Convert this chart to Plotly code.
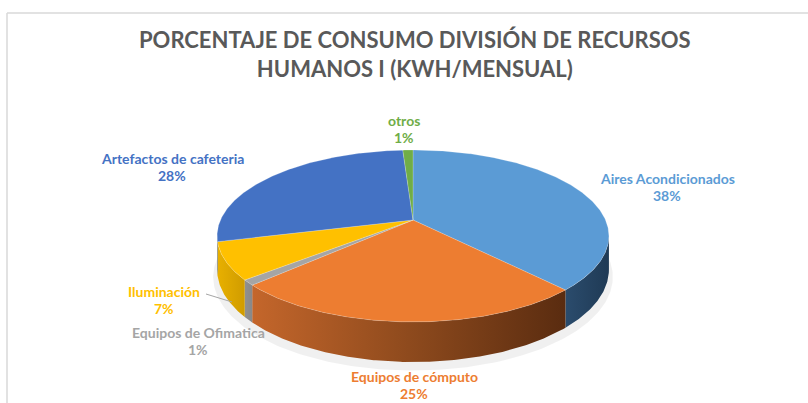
import numpy as np
import plotly.graph_objects as go

# ---------------- data ----------------
categories = ["Aires Acondicionados", "Equipos de cómputo", "Equipos de Ofimatica",
              "Iluminación", "Artefactos de cafeteria", "otros"]
percentages = [38, 25, 1, 7, 28, 1]
title_lines = ["PORCENTAJE DE CONSUMO DIVISIÓN DE RECURSOS", "HUMANOS I (KWH/MENSUAL)"]

# ---------------- styles / layout ----------------
top_colors = ["#5B9BD5", "#ED7D31", "#A5A5A5", "#FFC000", "#4472C4", "#70AD47"]
wall_scales = [
    [[0, "#2B4C6D"], [1, "#1F3A55"]],
    [[0, "#C4662B"], [0.5, "#8E4A1D"], [1, "#5A2C10"]],
    [[0, "#909090"], [1, "#888888"]],
    [[0, "#E8B000"], [1, "#D09C00"]],
    [[0, "#36599C"], [1, "#36599C"]],
    [[0, "#588A38"], [1, "#588A38"]],
]
label_pos = [(667, 186.5), (414, 385), (198, 340.5), (164, 299.5), (172, 167), (404, 128.5)]
LINE_GAP = 17
FONT = "Lato"

W, H = 808, 403
CX, CY, RX, RY, K, D0 = 413, 220, 192.5, 83, 0.186, 32.6


def proj(theta_deg, drop=0.0):
    t = np.radians(theta_deg)
    u, v = np.sin(t), np.cos(t)
    s = 1.0 / (1.0 + K * v)
    return CX + RX * u * s, CY - RY * v * s + drop * s


total = float(sum(percentages))
bounds = np.concatenate([[0], np.cumsum(percentages)]) / total * 360.0

fig = go.Figure()

# soft shadow under the pie
th = np.linspace(0, 360, 361)
sx, sy = proj(th, D0 + 7)
sx = CX + (sx - CX) * 1.02
fig.add_trace(go.Scatter(x=sx, y=sy, fill="toself", mode="lines", line=dict(width=0),
                         fillcolor="rgba(0,0,0,0.06)", hoverinfo="skip", showlegend=False))

# visible front walls (v < -K)
vis_a = np.degrees(np.arccos(-K))
vis_b = 360 - vis_a
for i in range(len(categories)):
    a, b = max(bounds[i], vis_a), min(bounds[i + 1], vis_b)
    if b <= a:
        continue
    t = np.linspace(a, b, max(4, int((b - a) * 2)))
    tx, ty = proj(t)
    bx, by = proj(t, D0)
    px = np.concatenate([tx, bx[::-1], tx[:1]])
    py = np.concatenate([ty, by[::-1], ty[:1]])
    fig.add_trace(go.Scatter(
        x=px, y=py, fill="toself", mode="lines", line=dict(width=0),
        fillgradient=dict(type="horizontal", colorscale=wall_scales[i]),
        hoverinfo="skip", showlegend=False))

# top faces
for i in range(len(categories)):
    a, b = bounds[i], bounds[i + 1]
    t = np.linspace(a, b, max(4, int((b - a) * 2)))
    tx, ty = proj(t)
    px = np.concatenate([[CX], tx, [CX]])
    py = np.concatenate([[CY], ty, [CY]])
    fig.add_trace(go.Scatter(
        x=px, y=py, fill="toself", mode="lines",
        line=dict(width=0.4, color="rgba(255,255,255,0.5)"),
        fillcolor=top_colors[i], hoverinfo="skip", showlegend=False))

# data labels (name line + percentage line)
for i, name in enumerate(categories):
    lx, ly = label_pos[i]
    for txt, yy in ((f"<b>{name}</b>", ly - LINE_GAP / 2),
                    (f"<b>{percentages[i]}%</b>", ly + LINE_GAP / 2)):
        fig.add_annotation(x=lx, y=yy, xref="x", yref="y", showarrow=False, text=txt,
                           font=dict(family=FONT, size=14, color=top_colors[i]),
                           xanchor="center", yanchor="middle", align="center")

# leader line for Iluminación
fig.add_shape(type="line", x0=206, y0=294, x1=232, y1=302, xref="x", yref="y",
              line=dict(color="#A6A6A6", width=1))

# title
fig.add_annotation(x=415, y=54, xref="x", yref="y", showarrow=False,
                   text="<b>" + "<br>".join(title_lines) + "</b>",
                   font=dict(family=FONT, size=22, color="#595959"),
                   xanchor="center", yanchor="middle", align="center")

# chart-area frame
fig.add_shape(type="line", x0=7, y0=13, x1=W, y1=13, xref="x", yref="y",
              line=dict(color="#D9D9D9", width=1.5))
fig.add_shape(type="line", x0=7, y0=13, x1=7, y1=H, xref="x", yref="y",
              line=dict(color="#D9D9D9", width=1.5))

fig.update_layout(
    width=W, height=H, margin=dict(l=0, r=0, t=0, b=0),
    paper_bgcolor="white", plot_bgcolor="white",
    xaxis=dict(range=[0, W], visible=False, fixedrange=True),
    yaxis=dict(range=[H, 0], visible=False, fixedrange=True),
    showlegend=False,
)

fig.write_html("out.html", config={"displayModeBar": False},
               post_script="document.body.style.margin='0';document.body.style.overflow='hidden';")
